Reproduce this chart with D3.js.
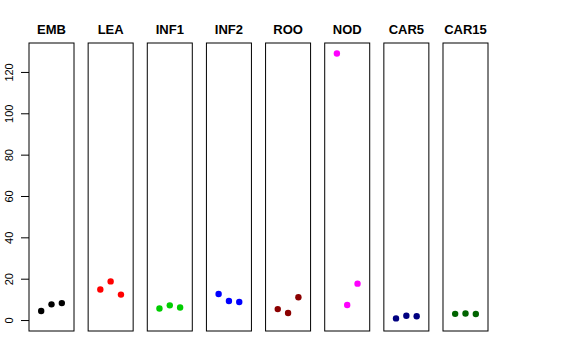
<!DOCTYPE html>
<html>
<head>
<meta charset="utf-8">
<script src="https://cdn.jsdelivr.net/npm/d3@7"></script>
<style>
  body { margin: 0; background: #fff; }
  text { font-family: "Liberation Sans", Arial, sans-serif; }
</style>
</head>
<body>
<svg width="576" height="360"></svg>
<script>
// tissues, one panel each
var tissues = ['EMB', 'LEA', 'INF1', 'INF2', 'ROO', 'NOD', 'CAR5', 'CAR15']

// three replicate values per tissue
var rep1 = [4.4, 14.8, 5.6, 12.6, 5.3, 128.9, 0.8, 3.0]
var rep2 = [7.6, 18.7, 7.1, 9.2, 3.4, 7.3, 2.1, 3.2]
var rep3 = [8.2, 12.3, 6.1, 8.7, 11.0, 17.6, 1.8, 2.9]

var yTicks = [0, 20, 40, 60, 80, 100, 120]

var colours = ['#000000', '#ff0000', '#00cd00', '#0000ff', '#8b0000', '#ff00ff', '#000080', '#006400']

var svg = d3.select('svg')

// note: "top" is a reserved window property, so use plotTop
var plotTop = 43
var plotBottom = 331

var panel = d3.scaleBand()
    .domain(tissues)
    .range([29, 488])
    .paddingInner(0.239)
    .paddingOuter(0)

var y = d3.scaleLinear()
    .domain([-5.3, 134])
    .range([plotBottom, plotTop])

// replicate position inside a panel
var xIn = d3.scaleLinear()
    .domain([-0.18, 4.18])
    .range([0, panel.bandwidth()])

var g = svg.selectAll('g.panel')
    .data(tissues)
  .enter().append('g')
    .attr('class', 'panel')
    .attr('transform', function (d) { return 'translate(' + panel(d) + ',0)' })

g.append('rect')
    .attr('x', 0)
    .attr('y', plotTop)
    .attr('width', panel.bandwidth())
    .attr('height', plotBottom - plotTop)
    .attr('fill', 'none')
    .attr('stroke', '#000')
    .attr('stroke-width', 1)

g.append('text')
    .attr('x', panel.bandwidth() / 2)
    .attr('y', 34)
    .attr('text-anchor', 'middle')
    .style('font-weight', 'bold')
    .style('font-size', '13px')
    .text(function (d) { return d })

g.selectAll('circle')
    .data(function (d, i) {
      return [rep1[i], rep2[i], rep3[i]].map(function (v, j) { return { v: v, k: j + 1, c: colours[i] } })
    })
  .enter().append('circle')
    .attr('cx', function (d) { return xIn(d.k) })
    .attr('cy', function (d) { return y(d.v) })
    .attr('r', 3.2)
    .attr('fill', function (d) { return d.c })

// y axis on the first panel
var axis = svg.append('g')
    .attr('transform', 'translate(' + panel(tissues[0]) + ',0)')
    .call(d3.axisLeft(y).tickValues(yTicks).tickSize(8).tickPadding(7))

axis.select('.domain').remove()
axis.selectAll('.tick line').attr('stroke', '#000')
axis.selectAll('.tick text')
    .style('font-size', '11px')
    .style('font-family', '"Liberation Sans", Arial, sans-serif')
    .attr('fill', '#000')
    .attr('text-anchor', 'middle')
    .attr('transform', 'rotate(-90)')
    .attr('x', 0)
    .attr('y', -16)
    .attr('dy', 0)
</script>
</body>
</html>
